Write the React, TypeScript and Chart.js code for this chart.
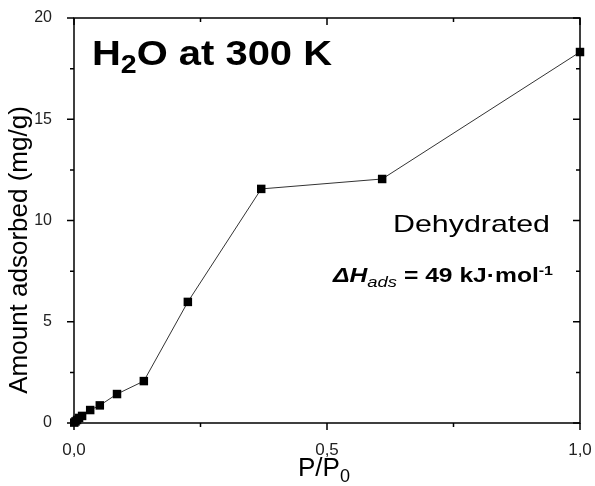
import React, { useEffect, useRef } from "react";
import { Chart, registerables } from "chart.js";

Chart.register(...registerables);

// Data
const pressure = [0.0005, 0.003, 0.006, 0.01, 0.016, 0.032, 0.051, 0.085, 0.138, 0.225, 0.37, 0.609, 1.0];
const adsorbed = [0.02, 0.08, 0.15, 0.25, 0.35, 0.64, 0.87, 1.43, 2.07, 5.98, 11.56, 12.05, 18.32];

const xMajorTicks = [0, 0.5, 1.0];
const xMinorTicks = [0.25, 0.75];
const yMajorTicks = [0, 5, 10, 15, 20];
const yMinorTicks = [2.5, 7.5, 12.5, 17.5];

const chartTitle = ["H", "2", "O at 300 K"];
const sampleLabel = "Dehydrated";
const enthalpyLabel = ["ΔH", "ads", " = 49 kJ·mol", "-1"];
const xTitle = ["P/P", "0"];
const yTitle = "Amount adsorbed (mg/g)";

const FONT = "Arial, 'Liberation Sans', sans-serif";

type Seg = { text: string; font: string; dy: number };

function drawRich(ctx: CanvasRenderingContext2D, segs: Seg[], left: number, baseline: number, width: number) {
  ctx.save();
  let total = 0;
  const widths = segs.map((s) => {
    ctx.font = s.font;
    const w = ctx.measureText(s.text).width;
    total += w;
    return w;
  });
  const sx = width / total;
  ctx.translate(left, baseline);
  ctx.scale(sx, 1);
  ctx.fillStyle = "#000";
  ctx.textAlign = "left";
  ctx.textBaseline = "alphabetic";
  let x = 0;
  segs.forEach((s, i) => {
    ctx.font = s.font;
    ctx.fillText(s.text, x, s.dy);
    x += widths[i];
  });
  ctx.restore();
}

const decorPlugin = {
  id: "decor",
  afterDatasetsDraw(chart: any) {
    const ctx: CanvasRenderingContext2D = chart.ctx;
    const { left, right, top, bottom } = chart.chartArea;
    const xs = chart.scales.x;
    const ys = chart.scales.y;
    ctx.save();
    ctx.strokeStyle = "#000";
    ctx.lineWidth = 1.5;
    ctx.beginPath();
    ctx.rect(left, top, right - left, bottom - top);
    ctx.stroke();
    const major = 7;
    const minor = 4;
    ctx.beginPath();
    const xt = (v: number, len: number) => {
      const px = xs.getPixelForValue(v);
      ctx.moveTo(px, bottom);
      ctx.lineTo(px, bottom + len);
      ctx.moveTo(px, top);
      ctx.lineTo(px, top + len);
    };
    const yt = (v: number, len: number) => {
      const py = ys.getPixelForValue(v);
      ctx.moveTo(left, py);
      ctx.lineTo(left - len, py);
      ctx.moveTo(right, py);
      ctx.lineTo(right - len, py);
    };
    xMajorTicks.forEach((v) => xt(v, major));
    xMinorTicks.forEach((v) => xt(v, minor));
    yMajorTicks.forEach((v) => yt(v, major));
    yMinorTicks.forEach((v) => yt(v, minor));
    ctx.stroke();
    ctx.restore();

    drawRich(
      ctx,
      [
        { text: chartTitle[0], font: `bold 35px ${FONT}`, dy: 0 },
        { text: chartTitle[1], font: `bold 25px ${FONT}`, dy: 8 },
        { text: chartTitle[2], font: `bold 35px ${FONT}`, dy: 0 },
      ],
      92,
      65,
      240
    );
    drawRich(ctx, [{ text: sampleLabel, font: `24px ${FONT}`, dy: 0 }], 393, 232, 157);
    drawRich(
      ctx,
      [
        { text: enthalpyLabel[0], font: `italic bold 20px ${FONT}`, dy: 0 },
        { text: enthalpyLabel[1], font: `italic 15px ${FONT}`, dy: 5 },
        { text: enthalpyLabel[2], font: `bold 20px ${FONT}`, dy: 0 },
        { text: enthalpyLabel[3], font: `bold 13px ${FONT}`, dy: -7 },
      ],
      333,
      282,
      220
    );
    drawRich(
      ctx,
      [
        { text: xTitle[0], font: `26px ${FONT}`, dy: 0 },
        { text: xTitle[1], font: `18px ${FONT}`, dy: 6 },
      ],
      298,
      476,
      52
    );
    ctx.save();
    ctx.translate(20, 250);
    ctx.rotate(-Math.PI / 2);
    ctx.font = `26px ${FONT}`;
    ctx.fillStyle = "#000";
    ctx.textAlign = "center";
    ctx.textBaseline = "middle";
    ctx.fillText(yTitle, 0, 0);
    ctx.restore();
  },
};

export default function App() {
  const ref = useRef<HTMLCanvasElement | null>(null);
  useEffect(() => {
    if (!ref.current) return;
    const chart = new Chart(ref.current, {
      type: "scatter",
      data: {
        datasets: [
          {
            data: pressure.map((p, i) => ({ x: p, y: adsorbed[i] })),
            showLine: true,
            borderColor: "#333",
            borderWidth: 1,
            pointStyle: "rect",
            pointRadius: 6,
            pointBackgroundColor: "#000",
            pointBorderColor: "#000",
            pointBorderWidth: 0,
            clip: false,
          } as any,
        ],
      },
      options: {
        responsive: false,
        animation: false,
        layout: { autoPadding: false, padding: { left: 0, right: 15, top: 18, bottom: 0 } },
        plugins: { legend: { display: false }, tooltip: { enabled: false } },
        scales: {
          x: {
            type: "linear",
            min: 0,
            max: 1,
            grid: { display: false },
            border: { display: false },
            afterFit: (s: any) => {
              s.height = 63;
              s.paddingLeft = 0;
              s.paddingRight = 0;
            },
            ticks: {
              stepSize: 0.25,
              autoSkip: false,
              maxRotation: 0,
              padding: 9,
              color: "#222",
              font: { family: FONT, size: 17 },
              callback: (v: any) => {
                const n = Number(v);
                return xMajorTicks.some((t) => Math.abs(t - n) < 1e-6) ? n.toFixed(1).replace(".", ",") : "";
              },
            },
          },
          y: {
            type: "linear",
            min: 0,
            max: 20,
            grid: { display: false },
            border: { display: false },
            afterFit: (s: any) => {
              s.width = 74;
              s.paddingTop = 0;
              s.paddingBottom = 0;
            },
            ticks: {
              stepSize: 2.5,
              autoSkip: false,
              padding: 14,
              color: "#222",
              font: { family: FONT, size: 16 },
              callback: (v: any) => {
                const n = Number(v);
                return yMajorTicks.includes(n) ? String(n) : "";
              },
            },
          },
        },
      },
      plugins: [decorPlugin],
    });
    return () => chart.destroy();
  }, []);
  return (
    <div style={{ position: "fixed", left: 0, top: 0, width: 595, height: 486, background: "#fff" }}>
      <canvas ref={ref} width={595} height={486} />
    </div>
  );
}
